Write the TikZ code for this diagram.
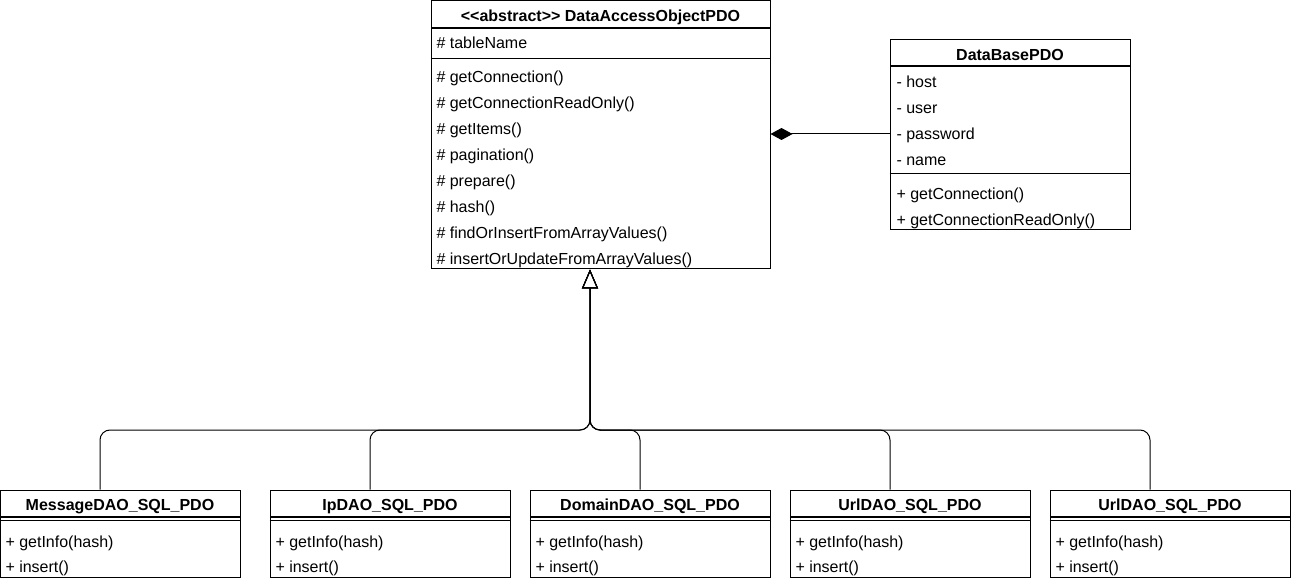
\documentclass[tikz,border=0pt]{standalone}
\usepackage{fontspec}
\newfontfamily\umlfont{Liberation Sans}
\usetikzlibrary{arrows.meta, positioning}

\begin{document}
\begin{tikzpicture}[x=1pt, y=-1pt, line width=1pt, font=\umlfont\fontsize{16}{19}\selectfont,
  clshead/.style={draw, fill=white, inner sep=0pt, minimum height=26pt, font=\umlfont\fontsize{16}{19}\selectfont\bfseries, text height=14.5pt, text depth=0pt},
  clsbody/.style={draw, fill=white, inner sep=0pt},
  member/.style={anchor=base west, inner sep=0pt},
  compose/.style={{Diamond[length=22pt, width=12pt]}-},
  inherit/.style={-{Triangle[open, length=19pt, width=16pt]}, rounded corners=10pt}]
\useasboundingbox (0,0) rectangle (1291,580);
% abstract base class
\node[clshead, minimum width=339pt, minimum height=27pt] (dao) at (600.5,14.5) {<{}<abstract>{}> DataAccessObjectPDO};
\node[clsbody, minimum width=339pt, minimum height=240pt, below=0pt of dao] (dao-body) {};
\draw ([yshift=-30pt]dao-body.north west) -- ([yshift=-30pt]dao-body.north east);
\node[member] (dao-a1) at (436,48.5) {\# tableName};
\node[member] (dao-m1) at (436,82.5) {\# getConnection()};
\node[member] (dao-m2) at (436,108.5) {\# getConnectionReadOnly()};
\node[member] (dao-m3) at (436,134.5) {\# getItems()};
\node[member] (dao-m4) at (436,160.5) {\# pagination()};
\node[member] (dao-m5) at (436,186.5) {\# prepare()};
\node[member] (dao-m6) at (436,212.5) {\# hash()};
\node[member] (dao-m7) at (436,238.5) {\# findOrInsertFromArrayValues()};
\node[member] (dao-m8) at (436,264.5) {\# insertOrUpdateFromArrayValues()};
% database connection
\node[clshead, minimum width=240pt] (db) at (1010,53) {DataBasePDO};
\node[clsbody, minimum width=240pt, minimum height=163pt, below=0pt of db] (db-body) {};
\draw ([yshift=-107pt]db-body.north west) -- ([yshift=-107pt]db-body.north east);
\node[member] (db-a1) at (896,87.5) {- host};
\node[member] (db-a2) at (896,113.5) {- user};
\node[member] (db-a3) at (896,139.5) {- password};
\node[member] (db-a4) at (896,165.5) {- name};
\node[member] (db-m1) at (896,199.5) {+ getConnection()};
\node[member] (db-m2) at (896,225.5) {+ getConnectionReadOnly()};
% concrete DAOs
\node[clshead, minimum width=240pt] (msg) at (120,503) {MessageDAO\_SQL\_PDO};
\node[clsbody, minimum width=240pt, minimum height=60pt, below=0pt of msg] (msg-body) {};
\draw ([yshift=-4pt]msg-body.north west) -- ([yshift=-4pt]msg-body.north east);
\node[member] (msg-m1) at (5,547.5) {+ getInfo(hash)};
\node[member] (msg-m2) at (5,572.5) {+ insert()};
\node[clshead, minimum width=240pt] (ip) at (390,503) {IpDAO\_SQL\_PDO};
\node[clsbody, minimum width=240pt, minimum height=60pt, below=0pt of ip] (ip-body) {};
\draw ([yshift=-4pt]ip-body.north west) -- ([yshift=-4pt]ip-body.north east);
\node[member] (ip-m1) at (275,547.5) {+ getInfo(hash)};
\node[member] (ip-m2) at (275,572.5) {+ insert()};
\node[clshead, minimum width=240pt] (dom) at (650,503) {DomainDAO\_SQL\_PDO};
\node[clsbody, minimum width=240pt, minimum height=60pt, below=0pt of dom] (dom-body) {};
\draw ([yshift=-4pt]dom-body.north west) -- ([yshift=-4pt]dom-body.north east);
\node[member] (dom-m1) at (535,547.5) {+ getInfo(hash)};
\node[member] (dom-m2) at (535,572.5) {+ insert()};
\node[clshead, minimum width=240pt] (url) at (910,503) {UrlDAO\_SQL\_PDO};
\node[clsbody, minimum width=240pt, minimum height=60pt, below=0pt of url] (url-body) {};
\draw ([yshift=-4pt]url-body.north west) -- ([yshift=-4pt]url-body.north east);
\node[member] (url-m1) at (795,547.5) {+ getInfo(hash)};
\node[member] (url-m2) at (795,572.5) {+ insert()};
\node[clshead, minimum width=240pt] (url2) at (1170,503) {UrlDAO\_SQL\_PDO};
\node[clsbody, minimum width=240pt, minimum height=60pt, below=0pt of url2] (url2-body) {};
\draw ([yshift=-4pt]url2-body.north west) -- ([yshift=-4pt]url2-body.north east);
\node[member] (url2-m1) at (1055,547.5) {+ getInfo(hash)};
\node[member] (url2-m2) at (1055,572.5) {+ insert()};
% relations
\coordinate (db-in) at ([yshift=14.5pt]db-body.west);
\draw[compose] (dao-body.east |- db-in) -- (db-in);
\coordinate (join) at (590,430);
\draw[inherit] ([xshift=-20pt]msg.north) |- (join) -- (dao-body.south -| join);
\draw[inherit] ([xshift=-20pt]ip.north) |- (join) -- (dao-body.south -| join);
\draw[inherit] ([xshift=-10pt]dom.north) |- (join) -- (dao-body.south -| join);
\draw[inherit] ([xshift=-20pt]url.north) |- (join) -- (dao-body.south -| join);
\draw[inherit] ([xshift=-20pt]url2.north) |- (join) -- (dao-body.south -| join);
\end{tikzpicture}
\end{document}
